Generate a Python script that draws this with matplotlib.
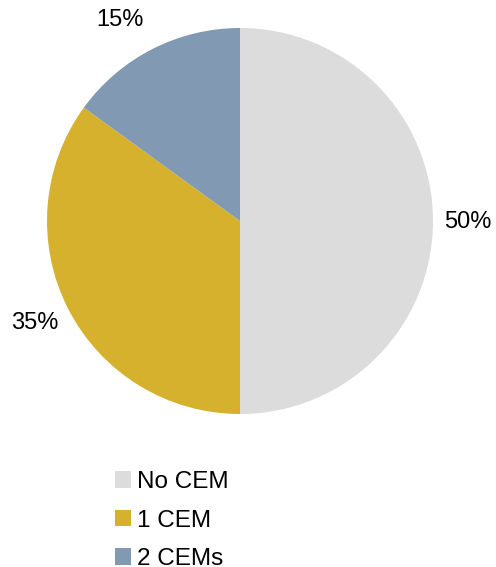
import matplotlib
matplotlib.use("Agg")
import matplotlib.pyplot as plt
from matplotlib.patches import Patch

categories = ["No CEM", "1 CEM", "2 CEMs"]
values = [50, 35, 15]
colors = ["#DCDCDC", "#D6B12E", "#8299B3"]

plt.rcParams['font.family'] = ['Liberation Sans', 'DejaVu Sans']

W, H = 496, 567
fig = plt.figure(figsize=(W/100, H/100), dpi=100)
cx, cy, r = 240, 221, 193
ax = fig.add_axes([(cx - r)/W, (H - cy - r)/H, 2*r/W, 2*r/H])
wedges, texts, autotexts = ax.pie(values, colors=colors, startangle=90, counterclock=False,
                                  autopct='%d%%', pctdistance=1.2, radius=1,
                                  textprops=dict(fontsize=17, color='black'))
label_pos = [(1.181, -0.005), (-1.062, -0.528), (-0.622, 1.041)]
for t, p in zip(autotexts, label_pos):
    t.set_position(p)
ax.set_xlim(-1, 1)
ax.set_ylim(-1, 1)
ax.axis('off')

handles = [Patch(facecolor=c, edgecolor='none') for c in colors]
fig.legend(handles, categories, loc='upper left', bbox_to_anchor=(115/W, 1 - 471/H),
           frameon=False, fontsize=17.5, handlelength=0.66, handleheight=0.66,
           handletextpad=0.25, labelspacing=0.68, borderaxespad=0, borderpad=0)

fig.savefig("out.png", dpi=100)
